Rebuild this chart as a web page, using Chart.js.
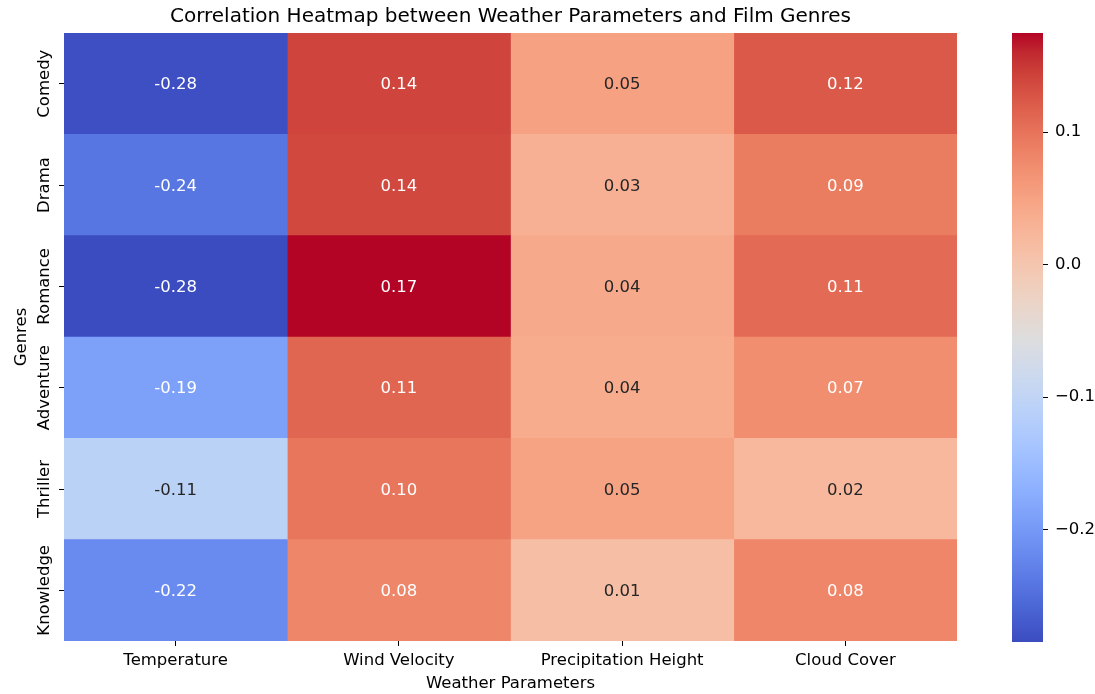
<!DOCTYPE html>
<html>
<head>
<meta charset="utf-8">
<script src="https://cdn.jsdelivr.net/npm/chart.js@4/dist/chart.umd.min.js"></script>
<style>
  html, body { margin: 0; padding: 0; background: #ffffff; }
  #wrap { position: relative; width: 1095px; height: 694px; }
  #heat { position: absolute; left: 0; top: 0; }
  #cbar { position: absolute; left: 1000px; top: 0; }
</style>
</head>
<body>
<div id="wrap">
  <canvas id="heat" width="1000" height="694"></canvas>
  <canvas id="cbar" width="95" height="694"></canvas>
</div>
<script>
// Heatmap data: rows are film genres, columns are weather parameters
const genres = ['Comedy', 'Drama', 'Romance', 'Adventure', 'Thriller', 'Knowledge'];
const parameters = ['Temperature', 'Wind Velocity', 'Precipitation Height', 'Cloud Cover'];
const temperature   = [-0.282, -0.241, -0.2849, -0.191, -0.108, -0.218];
const windVelocity  = [0.141, 0.138, 0.1749, 0.112, 0.097, 0.082];
const precipitation = [0.052, 0.032, 0.041, 0.038, 0.049, 0.012];
const cloudCover    = [0.124, 0.092, 0.108, 0.073, 0.021, 0.081];
const columns = [temperature, windVelocity, precipitation, cloudCover];
const colorbarTicks = [-0.2, -0.1, 0.0, 0.1];

const allValues = columns.flat();
const vmin = Math.min(...allValues);
const vmax = Math.max(...allValues);

const FONT = "'DejaVu Sans', 'Liberation Sans', sans-serif";
const FS = 16.5;
const TEXT = '#000000';

// Diverging cool-warm colour map (33 samples)
const coolwarm = [
  [59,76,192],[68,90,204],[77,104,215],[87,117,225],[98,130,234],[108,142,241],
  [119,154,247],[130,165,251],[141,176,254],[152,185,255],[163,194,255],[174,201,253],
  [184,208,249],[194,213,244],[204,217,238],[213,219,230],[221,221,221],[229,216,209],
  [236,211,197],[241,204,185],[245,196,173],[247,187,160],[247,177,148],[247,166,135],
  [244,154,123],[241,141,111],[236,127,99],[229,112,88],[222,96,77],[213,80,66],
  [203,62,56],[192,40,47],[180,4,38]
];
function cmap(t) {
  t = Math.max(0, Math.min(1, t));
  const p = t * (coolwarm.length - 1);
  const i = Math.min(coolwarm.length - 2, Math.floor(p));
  const f = p - i;
  const a = coolwarm[i], b = coolwarm[i + 1];
  return [0, 1, 2].map(k => a[k] + (b[k] - a[k]) * f);
}
function rgb(c) { return `rgb(${c.map(Math.round).join(',')})`; }
function colorFor(v) { return cmap((v - vmin) / (vmax - vmin)); }
function luminance(c) {
  const lin = c.map(x => { x /= 255; return x <= 0.03928 ? x / 12.92 : Math.pow((x + 0.055) / 1.055, 2.4); });
  return 0.2126 * lin[0] + 0.7152 * lin[1] + 0.0722 * lin[2];
}

// Cell annotations and rotated genre labels
const cellText = {
  id: 'cellText',
  afterDatasetsDraw(chart) {
    const { ctx, scales: { x, y } } = chart;
    ctx.save();
    ctx.font = `${FS}px ${FONT}`;
    ctx.textAlign = 'center';
    ctx.textBaseline = 'middle';
    columns.forEach((col, c) => {
      col.forEach((v, r) => {
        ctx.fillStyle = luminance(colorFor(v)) > 0.408 ? 'rgb(38,38,38)' : '#ffffff';
        ctx.fillText(v.toFixed(2), x.getPixelForValue(c + 0.5), y.getPixelForValue(r) + 1.5);
      });
    });
    ctx.restore();
  },
  afterDraw(chart) {
    const { ctx, scales: { y } } = chart;
    ctx.save();
    ctx.font = `${FS}px ${FONT}`;
    ctx.fillStyle = TEXT;
    ctx.textAlign = 'center';
    ctx.textBaseline = 'middle';
    genres.forEach((g, r) => {
      ctx.save();
      ctx.translate(y.right - 19, y.getPixelForValue(r));
      ctx.rotate(-Math.PI / 2);
      ctx.fillText(g, 0, 0);
      ctx.restore();
    });
    ctx.restore();
  }
};

new Chart(document.getElementById('heat'), {
  type: 'bar',
  data: {
    labels: genres,
    datasets: columns.map((col, c) => ({
      label: parameters[c],
      data: col.map(() => [c, c + 1]),
      backgroundColor: col.map(v => rgb(colorFor(v))),
      borderWidth: 0,
      barPercentage: 1,
      categoryPercentage: 1,
      grouped: false
    }))
  },
  options: {
    indexAxis: 'y',
    responsive: false,
    animation: false,
    events: [],
    layout: { padding: { left: 0, right: 43, top: 0, bottom: 0 } },
    plugins: {
      legend: { display: false },
      tooltip: { enabled: false },
      title: {
        display: true,
        text: 'Correlation Heatmap between Weather Parameters and Film Genres',
        color: TEXT,
        font: { family: FONT, size: 20, weight: 'normal', lineHeight: 1.2 },
        padding: { top: 5, bottom: 4 },
        fullSize: false
      }
    },
    scales: {
      x: {
        type: 'linear',
        min: 0,
        max: columns.length,
        afterBuildTicks: s => { s.ticks = parameters.map((p, i) => ({ value: i + 0.5 })); },
        afterFit: s => { s.height = 53; },
        ticks: {
          autoSkip: false,
          maxRotation: 0,
          padding: 5,
          color: TEXT,
          font: { family: FONT, size: FS },
          callback: (v, i) => parameters[i]
        },
        grid: { drawOnChartArea: false, drawTicks: true, tickLength: 5, tickColor: TEXT, tickWidth: 1 },
        border: { display: false },
        title: {
          display: true,
          text: 'Weather Parameters',
          color: TEXT,
          font: { family: FONT, size: FS, lineHeight: 1.2 },
          padding: { top: 0, bottom: 0 }
        }
      },
      y: {
        type: 'category',
        offset: true,
        afterFit: s => { s.width = 64; },
        ticks: { display: false },
        grid: { offset: false, drawOnChartArea: false, drawTicks: true, tickLength: 5, tickColor: TEXT, tickWidth: 1 },
        border: { display: false },
        title: {
          display: true,
          text: 'Genres',
          color: TEXT,
          font: { family: FONT, size: FS, lineHeight: 1.2 },
          padding: { top: 11.5, bottom: 0 }
        }
      }
    }
  },
  plugins: [cellText]
});

// Colour bar: one floating bar spanning the data range, filled with the colour map
function barGradient(context) {
  const { chart } = context;
  const area = chart.chartArea;
  if (!area) return rgb(cmap(0.5));
  const g = chart.ctx.createLinearGradient(0, area.bottom, 0, area.top);
  coolwarm.forEach((c, i) => g.addColorStop(i / (coolwarm.length - 1), rgb(c)));
  return g;
}

new Chart(document.getElementById('cbar'), {
  type: 'bar',
  data: {
    labels: [''],
    datasets: [{
      data: [[vmin, vmax]],
      backgroundColor: barGradient,
      borderWidth: 0,
      barPercentage: 1,
      categoryPercentage: 1
    }]
  },
  options: {
    responsive: false,
    animation: false,
    events: [],
    layout: { padding: { left: 12, right: 0, top: 33, bottom: 52 } },
    plugins: { legend: { display: false }, tooltip: { enabled: false } },
    scales: {
      x: { display: false },
      y: {
        type: 'linear',
        position: 'right',
        min: vmin,
        max: vmax,
        afterBuildTicks: s => { s.ticks = colorbarTicks.map(v => ({ value: v })); },
        afterFit: s => { s.width = 52; },
        ticks: {
          padding: 7,
          color: TEXT,
          font: { family: FONT, size: FS },
          callback: v => (v < 0 ? '\u2212' : '') + Math.abs(v).toFixed(1)
        },
        grid: { drawOnChartArea: false, drawTicks: true, tickLength: 5, tickColor: TEXT, tickWidth: 1 },
        border: { display: false }
      }
    }
  }
});
</script>
</body>
</html>
